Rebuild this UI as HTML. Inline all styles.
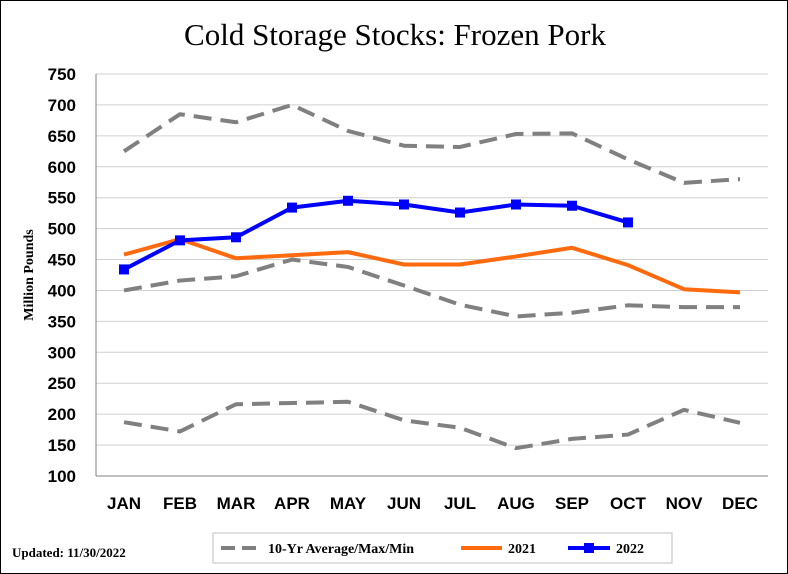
<!DOCTYPE html>
<html><head><meta charset="utf-8"><style>
body{margin:0;background:#fff}
svg{display:block}
</style></head><body>
<svg width="788" height="574" xmlns="http://www.w3.org/2000/svg">
<rect x="0.5" y="0.5" width="787" height="573" fill="#fff" stroke="#000"/>
<text x="395" y="45" text-anchor="middle" font-family="Liberation Serif, serif" font-size="31">Cold Storage Stocks: Frozen Pork</text>
<text transform="translate(33,275) rotate(-90)" text-anchor="middle" font-family="Liberation Serif, serif" font-weight="bold" font-size="14">Million Pounds</text>
<g id="grid"></g><g id="yt"></g><g id="xt"></g><g id="series"></g>
<text x="12" y="557" font-family="Liberation Serif, serif" font-weight="bold" font-size="13">Updated: 11/30/2022</text>
<g>
<rect x="213" y="533" width="459" height="30" fill="#fff" stroke="#bfbfbf"/>
<g><line x1="221" y1="548" x2="262" y2="548" stroke="#808080" stroke-width="4" stroke-dasharray="14,7"/><text x="268" y="553" font-family="Liberation Serif, serif" font-weight="bold" font-size="14">10-Yr Average/Max/Min</text></g>
<g><line x1="461" y1="548" x2="502" y2="548" stroke="#ff6a0e" stroke-width="4"/><text x="508" y="553" font-family="Liberation Serif, serif" font-weight="bold" font-size="14">2021</text></g>
<g><line x1="568" y1="548" x2="610" y2="548" stroke="#0000ff" stroke-width="4"/><rect x="584" y="543" width="10" height="10" fill="#0000ff"/><text x="616" y="553" font-family="Liberation Serif, serif" font-weight="bold" font-size="14">2022</text></g>
</g>
</svg>
<script>
const months=["JAN","FEB","MAR","APR","MAY","JUN","JUL","AUG","SEP","OCT","NOV","DEC"];
const yTicks=[100,150,200,250,300,350,400,450,500,550,600,650,700,750];
const maxVals=[625,685,672,700,658,634,632,653,654,612,574,580];
const avgVals=[400,416,423,450,438,408,377,358,364,376,373,373];
const minVals=[187,172,216,218,220,190,178,145,160,167,207,186];
const v2021=[458,483,452,457,462,442,442,455,469,441,402,397];
const v2022=[434,481,486,534,545,539,526,539,537,510];
const NS="http://www.w3.org/2000/svg";
const X0=96,X1=768,Y0=476,Y1=74,ymin=100,ymax=750;
const xs=i=>X0+(X1-X0)/12*(i+0.5);
const ys=v=>Y0-(v-ymin)/(ymax-ymin)*(Y0-Y1);
function mk(t,a,p){const e=document.createElementNS(NS,t);for(const k in a)e.setAttribute(k,a[k]);p.appendChild(e);return e;}
const grid=document.getElementById('grid'),yt=document.getElementById('yt'),xt=document.getElementById('xt'),ser=document.getElementById('series');
yTicks.forEach(v=>{
 if(v>ymin){const l=mk('line',{x1:X0,x2:X1,y1:ys(v),y2:ys(v),stroke:'#d0d0d0','stroke-width':1},grid);
 
 }
 const t=mk('text',{x:X0-20,y:ys(v)+6,'text-anchor':'end','font-family':'Liberation Sans, sans-serif','font-weight':'bold','font-size':17},yt);
 t.textContent=v;
 
 
});
const ax=mk('line',{x1:X0,x2:X0,y1:Y1,y2:Y0,stroke:'#808080'},grid);


const bx=mk('line',{x1:X0,x2:X1,y1:Y0,y2:Y0,stroke:'#808080'},grid);


months.forEach((m,i)=>{
 const t=mk('text',{x:xs(i),y:Y0+33,'text-anchor':'middle','font-family':'Liberation Sans, sans-serif','font-weight':'bold','font-size':17},xt);
 t.textContent=m;
 
 
});
function line(vals,color,dash,name){
 const pts=vals.map((v,i)=>xs(i)+','+ys(v)).join(' ');
 const a={points:pts,fill:'none',stroke:color,'stroke-width':4,'stroke-linejoin':'round'};
 if(dash)a['stroke-dasharray']=dash;
 const p=mk('polyline',a,ser);
 
 
}
line(maxVals,'#808080','18,9','line-10yr-max');
line(avgVals,'#808080','18,9','line-10yr-average');
line(minVals,'#808080','18,9','line-10yr-min');
line(v2021,'#ff6a0e',null,'line-2021');
line(v2022,'#0000ff',null,'line-2022');
v2022.forEach((v,i)=>{
 const r=mk('rect',{x:xs(i)-5,y:ys(v)-5,width:10,height:10,fill:'#0000ff'},ser);
 
 
});
</script>
</body></html>
